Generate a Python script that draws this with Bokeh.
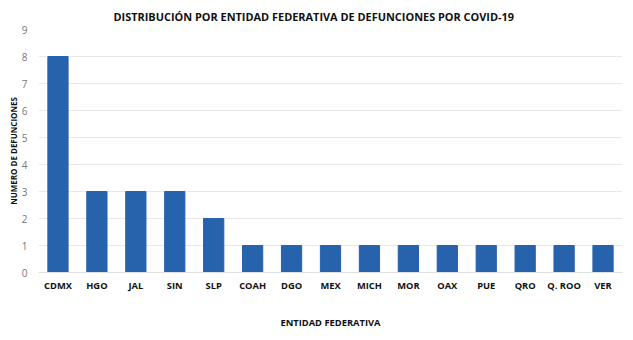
from bokeh.plotting import figure
from bokeh.models import ColumnDataSource, FixedTicker
from bokeh.embed import file_html
from bokeh.resources import INLINE

entidades = ["CDMX", "HGO", "JAL", "SIN", "SLP", "COAH", "DGO", "MEX", "MICH",
             "MOR", "OAX", "PUE", "QRO", "Q. ROO", "VER"]
defunciones = [8, 3, 3, 3, 2, 1, 1, 1, 1, 1, 1, 1, 1, 1, 1]
y_ticks = [0, 1, 2, 3, 4, 5, 6, 7, 8, 9]
titulo = "DISTRIBUCIÓN POR ENTIDAD FEDERATIVA DE DEFUNCIONES POR COVID-19"

FONT = "Open Sans"

src = ColumnDataSource(data=dict(x=entidades, y=defunciones))

p = figure(x_range=entidades, y_range=(0, 9), width=633, height=340,
           output_backend="svg", toolbar_location=None, title=titulo,
           min_border_left=38, min_border_right=11, min_border_top=26,
           min_border_bottom=68)

p.vbar(x="x", top="y", width=0.52, source=src, color="#2762ad")

p.title.align = "left"
p.title.offset = 75
p.title.text_font = FONT
p.title.text_font_size = "8.2pt"
p.title.text_font_style = "bold"
p.title.text_color = "#111111"
p.title.standoff = 12

p.outline_line_color = None
p.background_fill_color = "white"
p.border_fill_color = "white"

p.xgrid.grid_line_color = None
p.ygrid.grid_line_color = "#e8e8e8"
p.ygrid.grid_line_width = 1

p.yaxis.ticker = FixedTicker(ticks=y_ticks)
p.yaxis.axis_line_color = None
p.yaxis.major_tick_line_color = None
p.yaxis.minor_tick_line_color = None
p.yaxis.major_label_text_font = FONT
p.yaxis.major_label_text_font_size = "7.5pt"
p.yaxis.major_label_text_color = "#777777"
p.yaxis.major_label_standoff = 5
p.yaxis.axis_label = "NUMERO DE DEFUNCIONES"
p.yaxis.axis_label_text_font = FONT
p.yaxis.axis_label_text_font_size = "6pt"
p.yaxis.axis_label_text_font_style = "bold"
p.yaxis.axis_label_text_color = "#111111"
p.yaxis.axis_label_standoff = 0

p.xaxis.axis_line_color = "#e0e0e0"
p.xaxis.major_tick_line_color = None
p.xaxis.major_tick_out = 0
p.xaxis.major_label_text_font = FONT
p.xaxis.major_label_text_font_size = "7pt"
p.xaxis.major_label_text_font_style = "bold"
p.xaxis.major_label_text_color = "#111111"
p.xaxis.major_label_standoff = 6
p.xaxis.axis_label = "ENTIDAD FEDERATIVA"
p.xaxis.axis_label_text_font = FONT
p.xaxis.axis_label_text_font_size = "7pt"
p.xaxis.axis_label_text_font_style = "bold"
p.xaxis.axis_label_text_color = "#111111"
p.xaxis.axis_label_standoff = 21

open("out.html", "w").write(file_html(p, INLINE))
